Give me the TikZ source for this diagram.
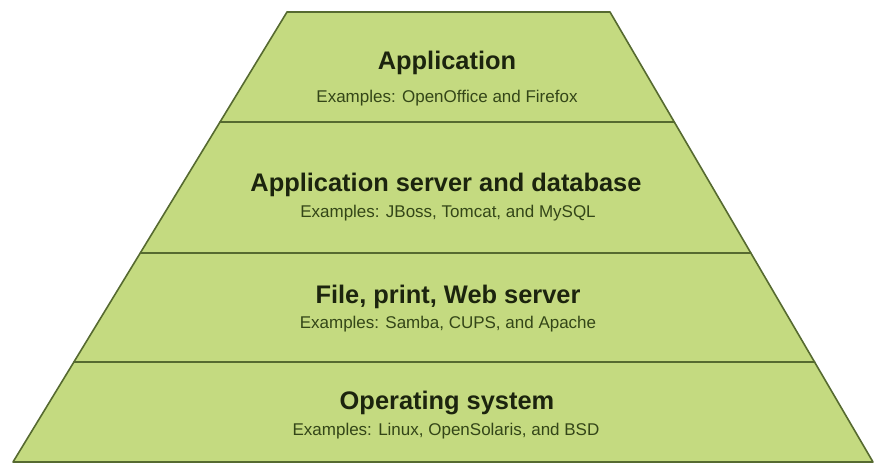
\documentclass[tikz,border=0pt]{standalone}
\usepackage{fontspec}
\setmainfont{Liberation Sans}
\definecolor{layergreen}{RGB}{196,218,128}
\definecolor{edgegreen}{RGB}{86,106,48}
\definecolor{titlegreen}{RGB}{28,36,14}
\definecolor{subgreen}{RGB}{52,70,24}
\usetikzlibrary{calc}

\begin{document}
\begin{tikzpicture}[
  x=1pt, y=-1pt,
  layer/.style={draw=edgegreen, line width=1.6pt, fill=layergreen, line join=round},
  ttl/.style={font=\fontsize{25.4}{27}\selectfont\bfseries, text=titlegreen, inner sep=0pt},
  sub/.style={font=\fontsize{17}{19}\selectfont, text=subgreen, inner sep=0pt}
]
\useasboundingbox (0,0) rectangle (875,464);

% corners of the pyramid
\coordinate (tl) at (287,12);
\coordinate (tr) at (610,12);
\coordinate (bl) at (13,462);
\coordinate (br) at (873,462);

% layer boundaries
\coordinate (l1) at ($(tl)!0.2444!(bl)$);
\coordinate (r1) at ($(tr)!0.2444!(br)$);
\coordinate (l2) at ($(tl)!0.5356!(bl)$);
\coordinate (r2) at ($(tr)!0.5356!(br)$);
\coordinate (l3) at ($(tl)!0.7778!(bl)$);
\coordinate (r3) at ($(tr)!0.7778!(br)$);

% Layers, bottom up
\draw[layer] (l3) -- (r3) -- (br) -- (bl) -- cycle;
\draw[layer] (l2) -- (r2) -- (r3) -- (l3) -- cycle;
\draw[layer] (l1) -- (r1) -- (r2) -- (l2) -- cycle;
\draw[layer] (tl) -- (tr) -- (r1) -- (l1) -- cycle;

% Texts
\node[ttl] (app) at (447,63) {Application};
\node[sub] (appsub) at (447,98) {Examples: OpenOffice and Firefox};

\node[ttl] (srv) at (446,185) {Application server and database};
\node[sub] (srvsub) at (448,213) {Examples: JBoss, Tomcat, and MySQL};

\node[ttl] (file) at (448,297) {File, print, Web server};
\node[sub] (filesub) at (448,324) {Examples: Samba, CUPS, and Apache};

\node[ttl] (os) at (447,403) {Operating system};
\node[sub] (ossub) at (446,431) {Examples: Linux, OpenSolaris, and BSD};
\end{tikzpicture}
\end{document}
